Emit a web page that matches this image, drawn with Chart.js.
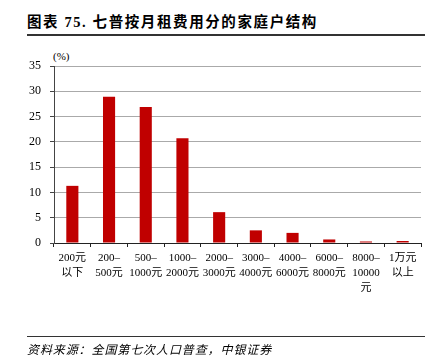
<!DOCTYPE html>
<html><head><meta charset="utf-8">
<script src="https://cdn.jsdelivr.net/npm/chart.js@4/dist/chart.umd.min.js"></script>
<style>
html,body{margin:0;padding:0;background:#fff;width:433px;height:356px;overflow:hidden;}
#wrap{position:absolute;left:0;top:0;width:433px;height:356px;}
.t{position:absolute;white-space:nowrap;color:#000;}
#title{left:27px;top:10px;font:bold 14.5px 'Liberation Serif','Noto Sans CJK SC';letter-spacing:1.6px;}
#tline{position:absolute;left:27px;top:34px;width:398px;height:1.5px;background:#333;}
#bline{position:absolute;left:27px;top:336px;width:398px;height:1px;background:#333;}
#src{left:27px;top:340px;font:italic 12px 'Liberation Serif','Noto Sans CJK SC';letter-spacing:0.9px;}
#unit{left:53px;top:50px;font:11px 'Liberation Serif','Noto Sans CJK SC';}
canvas{position:absolute;left:0;top:0;}
</style></head>
<body>
<div id="wrap">
<div class="t" id="title">图表 75. 七普按月租费用分的家庭户结构</div>
<div id="tline"></div>
<div class="t" id="unit">(%)</div>
<canvas id="c" width="433" height="356"></canvas>
<div id="bline"></div>
<div class="t" id="src">资料来源：全国第七次人口普查，中银证券</div>
</div>
<script>
const categories = [
  ["200元","以下"],["200–","500元"],["500–","1000元"],["1000–","2000元"],["2000–","3000元"],
  ["3000–","4000元"],["4000–","6000元"],["6000–","8000元"],["8000–","10000","元"],["1万元","以上"]
];
const shares = [11.3, 28.9, 26.9, 20.7, 6.1, 2.5, 2.0, 0.7, 0.3, 0.4];
const yMin = 0, yMax = 35, yStep = 5;

new Chart(document.getElementById('c'), {
  type: 'bar',
  data: { labels: categories, datasets: [{ data: shares, backgroundColor: '#C00000', borderWidth: 0, barPercentage: 0.33, categoryPercentage: 1.0 }] },
  options: {
    responsive: false, animation: false,
    layout: { padding: { top: 66, right: 12, left: 0, bottom: 0 } },
    plugins: { legend: { display: false }, tooltip: { enabled: false } },
    scales: {
      x: {
        offset: true,
        afterFit: a => { a.height = 113; },
        border: { display: true, color: '#222', width: 1 },
        grid: { display: true, drawOnChartArea: false, drawTicks: true, tickLength: 4, offset: true, color: '#222', tickColor: '#222' },
        ticks: { color: '#000', maxRotation: 0, autoSkip: false, padding: 4, font: { family: "'Liberation Serif','Noto Sans CJK SC'", size: 11, lineHeight: 1.36 } }
      },
      y: {
        min: yMin, max: yMax,
        afterFit: a => { a.width = 54; },
        border: { display: true, color: '#444', width: 1 },
        grid: { color: '#aaa', borderDash: [2, 2], tickBorderDash: [], tickColor: '#444', tickLength: 4, lineWidth: 1 },
        ticks: { stepSize: yStep, color: '#000', padding: 9, font: { family: "'Liberation Serif'", size: 12 } }
      }
    }
  }
});
</script>
</body></html>
